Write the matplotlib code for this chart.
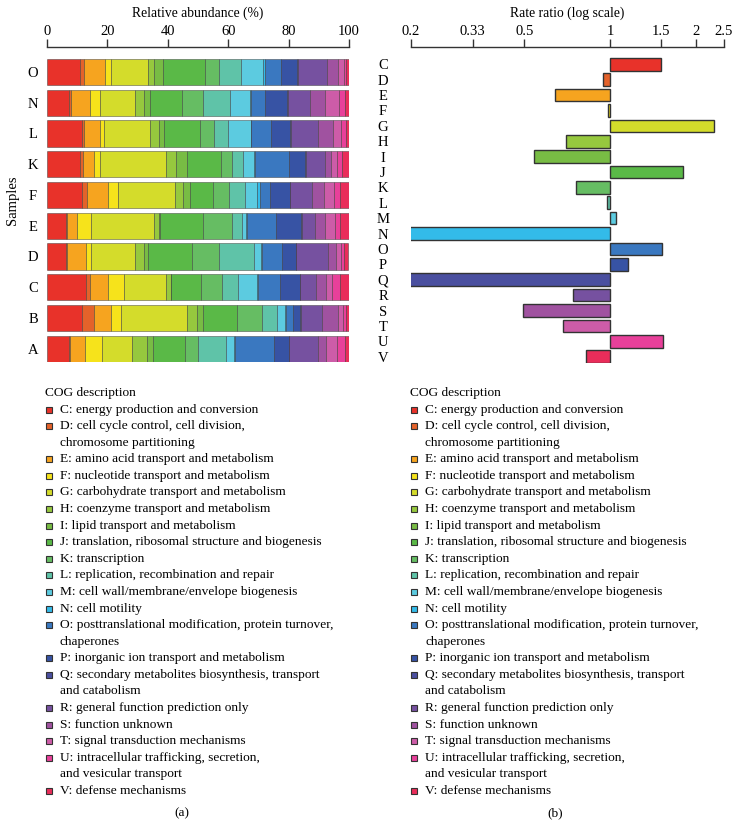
import matplotlib.pyplot as plt
from matplotlib.patches import Rectangle

plt.rcParams['font.family'] = ['Liberation Serif', 'DejaVu Serif']

W, H = 740, 839

cogs = list('CDEFGHIJKLMNOPQRSTUV')
colors = ['#e8322a', '#e4622a', '#f6a41f', '#f6e31b', '#d4dc2b', '#96c83e',
          '#78bc44', '#5ab947', '#66bd63', '#5fc3a8', '#5ccbe0', '#33bbe9',
          '#3a78c0', '#3753a4', '#4a4f9f', '#7651a0', '#a052a0', '#cd5ca8',
          '#e8409a', '#e92d5a']

# relative abundance (%) per sample, in COG order C..V
abund_A = [7.3, 0.4, 5.0, 5.5, 9.9, 5.0, 2.0, 10.7, 4.2, 9.4, 2.5, 0.2, 13.2, 4.7, 0.2, 9.7, 2.4, 3.6, 2.8, 1.3]
abund_B = [11.6, 4.1, 5.6, 3.3, 21.9, 3.1, 1.9, 11.3, 8.3, 5.0, 2.8, 0.2, 2.5, 2.2, 0.2, 6.9, 5.3, 1.9, 0.9, 1.1]
abund_C = [13.0, 1.3, 5.8, 5.4, 13.8, 1.7, 0.2, 9.8, 7.0, 5.3, 6.3, 0.2, 7.3, 6.6, 0.2, 5.3, 3.3, 2.0, 2.6, 2.9]
abund_D = [6.4, 0.2, 6.4, 1.5, 14.6, 3.0, 1.4, 14.6, 9.0, 11.6, 2.2, 0.2, 6.7, 4.6, 0.2, 10.6, 2.6, 1.4, 1.1, 1.4]
abund_E = [6.4, 0.2, 3.3, 4.6, 20.9, 1.8, 0.2, 14.3, 9.7, 3.2, 1.4, 0.2, 9.5, 8.5, 0.2, 4.5, 3.0, 3.3, 1.7, 3.1]
abund_F = [11.6, 1.7, 6.8, 3.3, 19.1, 2.5, 2.2, 7.9, 5.0, 5.3, 4.1, 1.1, 3.3, 6.4, 0.2, 7.2, 3.9, 3.3, 2.0, 3.3]
abund_K = [11.0, 0.8, 3.9, 1.8, 22.0, 3.3, 3.7, 11.0, 3.6, 3.9, 3.6, 0.2, 11.3, 5.4, 0.2, 6.4, 2.0, 1.9, 1.7, 2.3]
abund_L = [11.6, 0.8, 5.1, 1.5, 15.2, 2.8, 1.9, 11.9, 4.4, 4.6, 7.7, 0.2, 6.5, 6.3, 0.2, 8.9, 5.2, 2.4, 1.7, 1.2]
abund_N = [7.2, 0.6, 6.4, 3.2, 11.7, 3.0, 1.9, 10.8, 6.8, 9.1, 6.4, 0.6, 4.6, 7.2, 0.2, 7.5, 5.0, 4.4, 2.2, 1.4]
abund_O = [11.0, 1.1, 7.2, 1.9, 12.2, 1.9, 3.0, 14.1, 4.6, 7.2, 7.3, 0.6, 5.5, 5.2, 0.2, 9.7, 3.6, 1.9, 0.9, 1.1]

samples = ['A', 'B', 'C', 'D', 'E', 'F', 'K', 'L', 'N', 'O']
abund = [abund_A, abund_B, abund_C, abund_D, abund_E, abund_F, abund_K, abund_L, abund_N, abund_O]

# rate ratio per COG (log scale)
rate_ratio = [1.50, 0.94, 0.64, 0.98, 2.30, 0.70, 0.54, 1.80, 0.76, 0.974, 1.044, 0.187,
              1.52, 1.15, 0.175, 0.74, 0.494, 0.684, 1.535, 0.82]
ratio_ticks = [0.2, 0.33, 0.5, 1, 1.5, 2, 2.5]

descriptions = [
    'C: energy production and conversion',
    'D: cell cycle control, cell division,\nchromosome partitioning',
    'E: amino acid transport and metabolism',
    'F: nucleotide transport and metabolism',
    'G: carbohydrate transport and metabolism',
    'H: coenzyme transport and metabolism',
    'I: lipid transport and metabolism',
    'J: translation, ribosomal structure and biogenesis',
    'K: transcription',
    'L: replication, recombination and repair',
    'M: cell wall/membrane/envelope biogenesis',
    'N: cell motility',
    'O: posttranslational modification, protein turnover,\nchaperones',
    'P: inorganic ion transport and metabolism',
    'Q: secondary metabolites biosynthesis, transport\nand catabolism',
    'R: general function prediction only',
    'S: function unknown',
    'T: signal transduction mechanisms',
    'U: intracellular trafficking, secretion,\nand vesicular transport',
    'V: defense mechanisms',
]

fig = plt.figure(figsize=(W / 100, H / 100), dpi=100)


def fx(x):
    return x / W


def fy(y):
    return 1 - y / H


def style_top_axis(ax):
    for s in ['bottom', 'left', 'right']:
        ax.spines[s].set_visible(False)
    ax.spines['top'].set_linewidth(1.0)
    ax.spines['top'].set_color('#333333')
    ax.xaxis.tick_top()
    ax.tick_params(axis='x', direction='out', length=6, width=1.0, color='#333333',
                   labelsize=10.5, pad=0.5)
    ax.tick_params(axis='y', length=0, labelsize=10.5)


# (a) stacked relative abundance
ax1 = fig.add_axes([fx(47), fy(362), fx(349 - 47), (362 - 46.7) / H])
left = [0.0] * len(samples)
for j, c in enumerate(cogs):
    vals = [row[j] for row in abund]
    ax1.barh(range(len(samples)), vals, left=left, height=0.85, color=colors[j],
             edgecolor=(0.2, 0.2, 0.2, 0.45), linewidth=0.7)
    left = [l + v for l, v in zip(left, vals)]
ax1.set_xlim(0, 100)
ax1.set_ylim(-0.43, 9.82)
ax1.set_xticks([0, 20, 40, 60, 80, 100])
ax1.set_yticks(range(len(samples)))
ax1.set_yticklabels(samples, ha='center')
style_top_axis(ax1)
ax1.tick_params(axis='y', pad=10)
ax1.set_xlabel('Relative abundance (%)', fontsize=9.8, labelpad=6)
ax1.xaxis.set_label_position('top')
fig.text(fx(12), fy(200), 'Samples', rotation=90, ha='center', va='center', fontsize=10.5)

# (b) rate ratio, log scale
ax2 = fig.add_axes([fx(410.7), fy(363), fx(724 - 410.7), (363 - 46.7) / H])
ypos = list(range(len(cogs) - 1, -1, -1))
ax2.barh(ypos, [r - 1 for r in rate_ratio], left=1, height=0.82, color=colors,
         edgecolor='#333333', linewidth=1.0)
ax2.set_xscale('log')
ax2.set_xlim(0.2, 2.5)
ax2.set_ylim(-0.41, 20.14)
ax2.set_xticks(ratio_ticks)
ax2.set_xticklabels([str(t) for t in ratio_ticks])
ax2.xaxis.set_minor_locator(plt.NullLocator())
ax2.set_yticks(ypos)
ax2.set_yticklabels(cogs, ha='center')
style_top_axis(ax2)
ax2.tick_params(axis='y', pad=20)
ax2.set_xlabel('Rate ratio (log scale)', fontsize=9.8, labelpad=6)
ax2.xaxis.set_label_position('top')


# legends
def draw_legend(x0, title_y):
    step = 16.58
    fig.text(fx(x0), fy(title_y), 'COG description', ha='left', va='center', fontsize=9.6)
    line = 1
    for c, desc in zip(colors, descriptions):
        y = title_y + step * line
        fig.patches.append(Rectangle((fx(x0 + 1), fy(y + 3)), 6 / W, 6 / H,
                                     transform=fig.transFigure, facecolor=c,
                                     edgecolor='#333333', linewidth=0.8))
        for k, part in enumerate(desc.split('\n')):
            fig.text(fx(x0 + 15), fy(y + step * k), part, ha='left', va='center', fontsize=9.6)
        line += desc.count('\n') + 1


draw_legend(45, 393)
draw_legend(410, 393)

fig.text(fx(182), fy(813), '(a)', ha='center', va='center', fontsize=9.6)
fig.text(fx(555), fy(813), '(b)', ha='center', va='center', fontsize=9.6)

fig.savefig('out.png', dpi=100)
